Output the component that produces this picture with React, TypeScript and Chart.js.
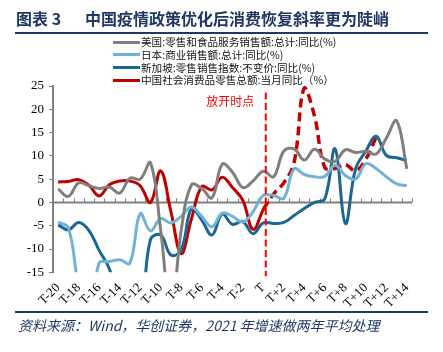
import React, { useEffect, useRef } from "react";
import { Chart, registerables } from "chart.js";

Chart.register(...registerables);

// Categories: months relative to reopening point T
const labels = [
  "T-20", "T-19", "T-18", "T-17", "T-16", "T-15", "T-14", "T-13", "T-12", "T-11",
  "T-10", "T-9", "T-8", "T-7", "T-6", "T-5", "T-4", "T-3", "T-2", "T-1",
  "T", "T+1", "T+2", "T+3", "T+4", "T+5", "T+6", "T+7", "T+8", "T+9",
  "T+10", "T+11", "T+12", "T+13", "T+14",
];

// 美国:零售和食品服务销售额:总计:同比(%)
const usRetail = [
  2.9, 1.3, 4.2, 3.6, 3.0, 3.3, 2.0, 5.2, 5.0, 8.5,
  -6, -24, -6, 3.8, 3.0, 1.0, 8.2, 6.5, 3.2, 4.6,
  6.7, 5.5, 11.0, 11.5, 9.1, 11.4, 9.3, 8.8, 11.3, 10.7,
  11.0, 10.4, 13.8, 17.5, 7.2,
];

// 日本:商业销售额:总计:同比(%)
const japanSales = [
  -4.2, -5.5, -18, -25, -13, -12.7, -12.3, -13, -2.4, -6.1,
  -3.5, -4.4, -3.0, -1.0, -3.0, -5.2, -2.3, -3.0, -4.2, -2.0,
  1.5, 1.5, 0.9, 7.2, 6.0, 5.5, 5.6, 8.0, 5.8, 5.0,
  8.3, 7.3, 5.5, 4.0, 3.6,
];

// 新加坡:零售销售指数:不变价:同比(%)
const singaporeRetail = [
  -4.8, -5.9, -4.3, -6.0, -10.3, -14.3, -22, -24, -24, -8.0,
  -7.0, -11.3, -10.2, -1.3, -3.8, -7.0, -2.5, -4.7, -4.1, -6.7,
  -4.4, -4.5, -4.3, -2.8, -1.3, 0.0, 0.8, 11.5, -4.5, 7.2,
  11.0, 14.2, 10.1, 9.6, 9.0,
];

// 中国社会消费品零售总额:当月同比（%） — actual (up to T)
const chinaActual = [
  4.4, 4.5, 4.9, 3.7, 1.4, 3.8, 4.6, 4.6, 3.6, 0.0,
  6.8, -2.0, -11.0, -3.5, 3.4, 2.7, 5.4, 3.2, 0.5, -5.8,
  -1.5, null, null, null, null, null, null, null, null, null,
  null, null, null, null, null,
];

// 中国社会消费品零售总额 — after T (dashed)
const chinaAfter = [
  null, null, null, null, null, null, null, null, null, null,
  null, null, null, null, null, null, null, null, null, null,
  -1.5, 1.8, 4.2, 8.5, 24.6, 18.5, 7.5, 7.3, 8.1, 6.8,
  9.3, 14.0, null, null, null,
];

const yTicks = [-15, -10, -5, 0, 5, 10, 15, 20, 25];
const reopenIndex = 20;
const reopenLabel = "放开时点";

const legendItems = [
  { text: "美国:零售和食品服务销售额:总计:同比(%)", color: "#7F7F7F" },
  { text: "日本:商业销售额:总计:同比(%)", color: "#72B3D5" },
  { text: "新加坡:零售销售指数:不变价:同比(%)", color: "#1B6793" },
  { text: "中国社会消费品零售总额:当月同比（%）", color: "#C00000" },
];

const serif = '"Liberation Serif", "Times New Roman", serif';
const cjk = '"Noto Sans CJK SC", "Noto Sans", sans-serif';

const annotPlugin = {
  id: "annot",
  beforeDatasetsDraw(chart: any) {
    const { ctx, chartArea, scales } = chart;
    const x = scales.x;
    const y = scales.y;
    const y0 = y.getPixelForValue(0);
    ctx.save();
    ctx.strokeStyle = "#7F7F7F";
    ctx.lineWidth = 2;
    ctx.beginPath();
    ctx.moveTo(chartArea.left, y0);
    ctx.lineTo(chartArea.right, y0);
    ctx.stroke();
    ctx.lineWidth = 1;
    for (let i = 0; i <= labels.length; i++) {
      const px = Math.round(x.getPixelForValue(i - 0.5)) + 0.5;
      ctx.beginPath();
      ctx.moveTo(px, y0);
      ctx.lineTo(px, y0 - 4);
      ctx.stroke();
    }
    ctx.restore();
  },
  afterDatasetsDraw(chart: any) {
    const { ctx, chartArea, scales } = chart;
    const x = scales.x;
    const y = scales.y;
    const px = x.getPixelForValue(reopenIndex) + 2.5;
    ctx.save();
    ctx.strokeStyle = "#FF0000";
    ctx.lineWidth = 2;
    ctx.setLineDash([7, 3.5]);
    ctx.beginPath();
    ctx.moveTo(px, y.getPixelForValue(23.6));
    ctx.lineTo(px, chartArea.bottom + 4);
    ctx.stroke();
    ctx.setLineDash([]);
    ctx.fillStyle = "#FF0000";
    ctx.font = `12px ${cjk}`;
    ctx.textAlign = "center";
    ctx.textBaseline = "middle";
    ctx.fillText(reopenLabel, x.getPixelForValue(reopenIndex) - 33, y.getPixelForValue(21.6));
    ctx.restore();
  },
};

export default function App() {
  const ref = useRef<HTMLCanvasElement>(null);

  useEffect(() => {
    const canvas = ref.current;
    if (!canvas) return;
    const line = (data: (number | null)[], color: string, dash?: number[]) => ({
      data,
      borderColor: color,
      backgroundColor: color,
      borderWidth: dash ? 3.5 : 3,
      borderDash: dash || [],
      pointRadius: 0,
      tension: 0.4,
      fill: false,
      spanGaps: false,
    });
    const chart = new Chart(canvas, {
      type: "line",
      data: {
        labels,
        datasets: [
          line(usRetail, "#7F7F7F"),
          line(japanSales, "#72B3D5"),
          line(singaporeRetail, "#1B6793"),
          line(chinaAfter, "#C00000", [9, 5]),
          line(chinaActual, "#C00000"),
        ] as any,
      },
      options: {
        responsive: false,
        animation: false,
        devicePixelRatio: 1,
        layout: { padding: { left: 0, right: 31, top: 86, bottom: 0 } },
        plugins: {
          legend: { display: false },
          tooltip: { enabled: false },
        },
        scales: {
          x: {
            type: "category",
            offset: true,
            grid: { display: false, drawTicks: false },
            border: { display: false },
            ticks: {
              autoSkip: false,
              maxRotation: 45,
              minRotation: 45,
              padding: 8,
              color: "#000",
              font: { family: serif, size: 13 },
              callback: (_v: any, i: number) => (i % 2 === 0 ? labels[i] : ""),
            },
            afterFit: (s: any) => {
              s.height = 79.7;
            },
          },
          y: {
            min: -15,
            max: 25,
            afterBuildTicks: (s: any) => {
              s.ticks = yTicks.map((v) => ({ value: v }));
            },
            ticks: {
              color: "#000",
              padding: 5,
              font: { family: serif, size: 13 },
            },
            grid: {
              drawOnChartArea: false,
              drawTicks: true,
              tickLength: 4,
              color: "#7F7F7F",
              lineWidth: 1,
            },
            border: { display: true, color: "#7F7F7F", width: 2 },
            afterFit: (s: any) => {
              s.width = 53;
            },
          },
        },
      } as any,
      plugins: [annotPlugin],
    });
    return () => chart.destroy();
  }, []);

  return (
    <div
      style={{
        position: "absolute",
        left: 0,
        top: 0,
        width: 443,
        height: 352,
        background: "#fff",
        overflow: "hidden",
      }}
    >
      <canvas
        ref={ref}
        width={443}
        height={352}
        style={{ position: "absolute", left: 0, top: 0, width: 443, height: 352 }}
      />
      <div
        style={{
          position: "absolute",
          left: 16,
          top: 8,
          lineHeight: "20px",
          fontFamily: cjk,
          fontWeight: 700,
          fontSize: 16,
          color: "#1F3864",
          whiteSpace: "pre",
        }}
      >
        图表 3
      </div>
      <div
        style={{
          position: "absolute",
          left: 85,
          top: 8,
          lineHeight: "20px",
          fontFamily: cjk,
          fontWeight: 700,
          fontSize: 16,
          color: "#1F3864",
          whiteSpace: "pre",
        }}
      >
        中国疫情政策优化后消费恢复斜率更为陡峭
      </div>
      <div
        style={{
          position: "absolute",
          left: 15,
          top: 32,
          width: 413,
          height: 2,
          background: "#1F3864",
        }}
      />
      {legendItems.map((it, k) => (
        <div
          key={k}
          style={{
            position: "absolute",
            left: 113,
            top: 42.3 + k * 12.6 - 7,
            height: 14,
            display: "flex",
            alignItems: "center",
            whiteSpace: "pre",
          }}
        >
          <div style={{ width: 27, height: 3, background: it.color, marginRight: 1 }} />
          <span
            style={{
              fontFamily: cjk,
              fontSize: 10.6,
              lineHeight: "14px",
              color: "#111",
            }}
          >
            {it.text}
          </span>
        </div>
      ))}
      <div
        style={{
          position: "absolute",
          left: 15,
          top: 311,
          width: 413,
          height: 1.5,
          background: "#1F3864",
        }}
      />
      <div
        style={{
          position: "absolute",
          left: 18,
          top: 315,
          lineHeight: "20px",
          fontFamily: cjk,
          fontStyle: "italic",
          fontSize: 14,
          color: "#1F3864",
          whiteSpace: "pre",
        }}
      >
        资料来源：Wind，华创证券，2021 年增速做两年平均处理
      </div>
    </div>
  );
}
